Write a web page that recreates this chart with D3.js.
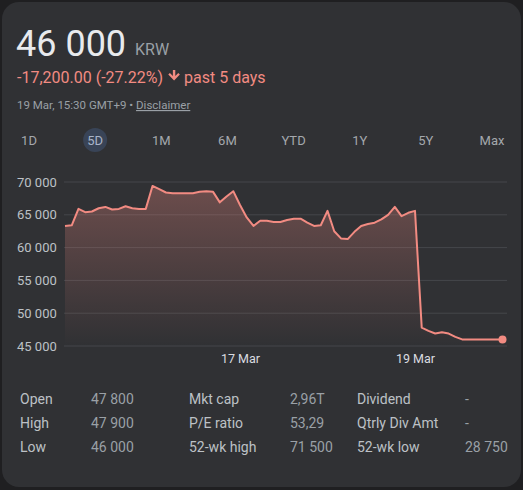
<!DOCTYPE html>
<html><head><meta charset="utf-8">
<script src="https://cdn.jsdelivr.net/npm/d3@7/dist/d3.min.js"></script>
<style>
html,body{margin:0;padding:0;background:#1f1f21;}
svg{display:block;font-family:Roboto,"Noto Sans",Arial,sans-serif;}
</style></head>
<body>
<svg id="c" width="523" height="490"></svg>
<script>
// ---- data ----
const days = ["13 Mar","14 Mar","17 Mar","18 Mar","19 Mar"];
const pointsPerDay = 13;
const prices = [
 63300,63400,65900,65400,65500,66000,66200,65800,65900,66300,66000,65900,65900,
 69400,68900,68400,68300,68300,68300,68300,68500,68600,68500,66900,67800,68600,
 66500,64600,63300,64100,64100,63900,63900,64200,64400,64400,63800,63300,63400,
 65600,62500,61400,61300,62400,63300,63600,63800,64300,65000,66200,64800,65300,
 65600,47800,47300,46900,47100,46900,46400,46000,46000,46000,46000,46000,46000,46000
];
const yTicks = [45000,50000,55000,60000,65000,70000];
const xTickDays = ["17 Mar","19 Mar"];
const ranges = ["1D","5D","1M","6M","YTD","1Y","5Y","Max"];
const selectedRange = "5D";
const statLabels = [["Open","High","Low"],["Mkt cap","P/E ratio","52-wk high"],["Dividend","Qtrly Div Amt","52-wk low"]];
const statValues = [["47 800","47 900","46 000"],["2,96T","53,29","71 500"],["-","-","28 750"]];
const price = "46 000", currency = "KRW";
const change = "-17,200.00 (-27.22%)", period = "past 5 days";
const stamp = "19 Mar, 15:30 GMT+9 • ";

const svg = d3.select("#c");
const red = "#f28b82";

// card
svg.append("rect").attr("x",2).attr("y",2).attr("width",519).attr("height",485)
  .attr("rx",17).attr("fill","#303134");

// header
svg.append("text").attr("x",16).attr("y",56).attr("fill","#e8eaed")
  .attr("font-size",36).text(price);
svg.append("text").attr("x",135).attr("y",55).attr("fill","#9aa0a6")
  .attr("font-size",16).text(currency);
const ch1 = svg.append("text").attr("x",17).attr("y",83).attr("fill",red).attr("font-size",16).text(change);
const w1 = ch1.node().getComputedTextLength();
const ax = 17 + w1 + 11;
svg.append("path")
  .attr("d",`M${ax-1.2},70 h2.4 v6 l3,-3 l1.6,1.6 l-5.8,5.8 l-5.8,-5.8 l1.6,-1.6 l3,3 z`)
  .attr("fill",red);
svg.append("text").attr("x",ax+10).attr("y",83).attr("fill",red).attr("font-size",16).text(period);
const st = svg.append("text").attr("x",17).attr("y",109).attr("fill","#9aa0a6").attr("font-size",11.5);
st.append("tspan").text(stamp);
st.append("tspan").text("Disclaimer").attr("text-decoration","underline");

// range tabs
const tabX = d3.scalePoint().domain(ranges).range([29,492]);
const tabs = svg.append("g");
tabs.selectAll("circle").data(ranges.filter(r=>r===selectedRange)).join("circle")
  .attr("cx",d=>tabX(d)).attr("cy",140).attr("r",12).attr("fill","#394457");
tabs.selectAll("text").data(ranges).join("text")
  .attr("x",d=>tabX(d)).attr("y",145).attr("text-anchor","middle")
  .attr("font-size",13).attr("fill",d=>d===selectedRange?"#a8b4c8":"#a4a8ad").text(d=>d);

// chart
const n = days.length*pointsPerDay;
const x = d3.scaleLinear().domain([0,n]).range([65,502.5]);
const y = d3.scaleLinear().domain([45000,70000]).range([346,182]);
const loc = d3.formatLocale({decimal:",",thousands:" ",grouping:[3],currency:["",""]});
const fmt = loc.format(",d");

const grid = svg.append("g");
grid.selectAll("line").data(yTicks).join("line")
  .attr("x1",64).attr("x2",507).attr("y1",d=>y(d)).attr("y2",d=>y(d))
  .attr("stroke","#45474b").attr("stroke-width",1);

const yAxis = svg.append("g").attr("transform","translate(17,0)")
  .call(d3.axisRight(y).tickValues(yTicks).tickFormat(fmt).tickSize(0).tickPadding(0));
yAxis.select(".domain").remove();
yAxis.selectAll("text").attr("font-size",13).attr("fill","#bdc1c6")
  .attr("font-family","Roboto,sans-serif");

const xAxis = svg.append("g").attr("transform","translate(0,352)")
  .call(d3.axisBottom(x).tickValues(xTickDays.map(d=>days.indexOf(d)*pointsPerDay))
    .tickFormat(v=>days[v/pointsPerDay]).tickSize(0).tickPadding(0));
xAxis.select(".domain").remove();
xAxis.selectAll("text").attr("font-size",12.5).attr("fill","#dadce0")
  .attr("dy","0.9em").attr("font-family","Roboto,sans-serif");

const defs = svg.append("defs");
const gr = defs.append("linearGradient").attr("id","fillg")
  .attr("gradientUnits","userSpaceOnUse").attr("x1",0).attr("x2",0)
  .attr("y1",y(70000)).attr("y2",y(45000));
gr.append("stop").attr("offset",0).attr("stop-color",red).attr("stop-opacity",0.32);
gr.append("stop").attr("offset",1).attr("stop-color",red).attr("stop-opacity",0);

const area = d3.area().x((d,i)=>x(i)).y0(y(45000)).y1(d=>y(d));
svg.append("path").datum(prices).attr("d",area).attr("fill","url(#fillg)");
const line = d3.line().x((d,i)=>x(i)).y(d=>y(d));
svg.append("path").datum(prices).attr("d",line).attr("fill","none")
  .attr("stroke",red).attr("stroke-width",2).attr("stroke-linejoin","round");
svg.append("circle").attr("cx",x(prices.length-1)).attr("cy",y(prices[prices.length-1]))
  .attr("r",4).attr("fill",red);

// stats table
const colX = [[20,91],[189,290],[357,465]];
const rowY = [404,428,452];
statLabels.forEach((col,ci)=>{
  col.forEach((lab,ri)=>{
    svg.append("text").attr("x",colX[ci][0]).attr("y",rowY[ri]).attr("font-size",14)
      .attr("fill","#bdc1c6").text(lab);
    svg.append("text").attr("x",colX[ci][1]).attr("y",rowY[ri]).attr("font-size",14)
      .attr("fill","#9aa0a6").text(statValues[ci][ri]);
  });
});
</script>
</body></html>
